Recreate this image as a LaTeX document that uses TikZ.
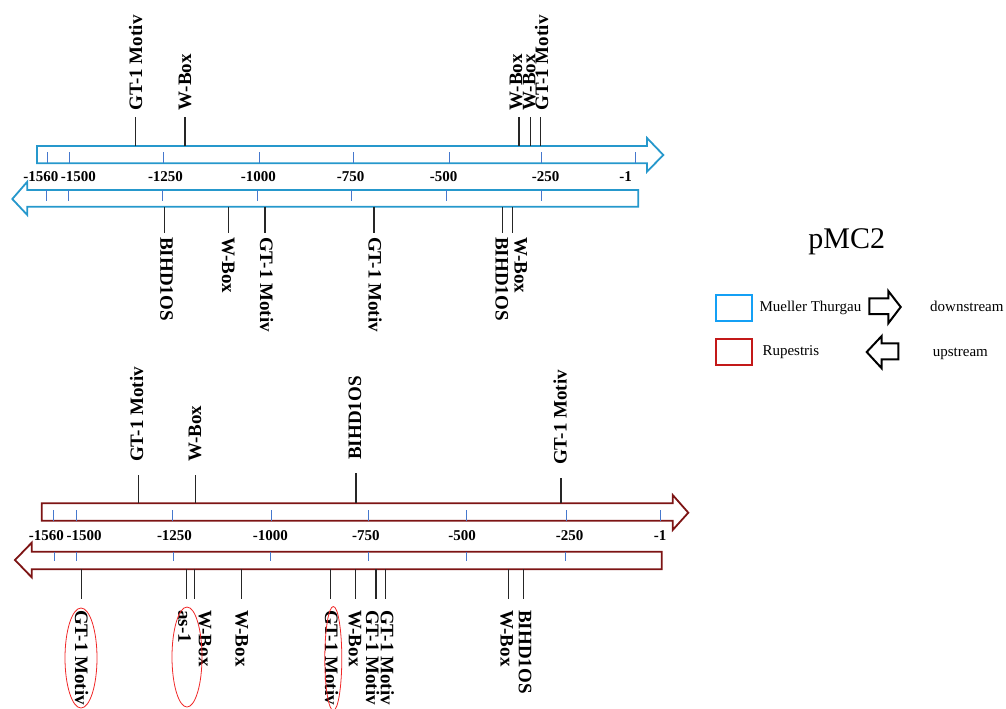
\documentclass[tikz,border=0pt]{standalone}
\usepackage{fontspec}
\setmainfont{Liberation Serif}
\usepackage{xcolor}
\definecolor{mtblue}{RGB}{38,152,204}
\definecolor{mtkeyblue}{RGB}{20,160,245}
\definecolor{rupred}{RGB}{125,20,20}
\definecolor{rupkeyred}{RGB}{195,25,25}
\definecolor{tickblue}{RGB}{70,120,205}
\definecolor{ringred}{RGB}{240,40,40}
\usetikzlibrary{positioning}

\begin{document}
\begin{tikzpicture}[x=1pt, y=-1pt,
  mtarrow/.style={draw=mtblue, line width=1.8pt, fill=white},
  ruparrow/.style={draw=rupred, line width=1.8pt, fill=white},
  tickmark/.style={draw=tickblue, line width=0.9pt},
  ticklabel/.style={font=\fontsize{15}{15}\selectfont\bfseries, inner sep=0pt},
  site/.style={draw=black!85, line width=1.3pt},
  sitelabel/.style={font=\fontsize{19}{19}\selectfont\bfseries, inner sep=0pt, anchor=west},
  ring/.style={draw=ringred, line width=0.8pt},
  keybox/.style={line width=2pt, fill=white, minimum width=36pt, minimum height=26pt, inner sep=0pt},
  keytext/.style={font=\fontsize{15}{15}\selectfont, inner sep=0pt},
  keyarrow/.style={draw=black, line width=2pt, fill=white}
]
\useasboundingbox (0,0) rectangle (1006,709);

% Mueller Thurgau, downstream / upstream
\draw[mtarrow] (37,146) -- (647,146) -- (647,138) -- (663.3,155) -- (647,171.7) -- (647,163.3) -- (37,163.3) -- cycle;
\draw[mtarrow] (638.3,190) -- (27.3,190) -- (27.3,181.7) -- (12.3,199) -- (27.3,215) -- (27.3,206.7) -- (638.3,206.7) -- cycle;
\foreach \tx in {47.7,69.3,163.3,259.3,353.3,449,541.7,635.7}
  \draw[tickmark] (\tx,152) -- (\tx,163);
\foreach \tx in {46,68.3,162.7,257.3,351.7,446.3,541}
  \draw[tickmark] (\tx,190) -- (\tx,200.7);
\foreach \lx/\val [count=\i] in {40.8/-1560, 78.3/-1500, 165.5/-1250, 258.3/-1000, 350.7/-750, 443.7/-500, 545.5/-250, 625.5/-1}
  \node[ticklabel] (mtpos\i) at (\lx,176.7) {\val};

\foreach \x/\lx/\txt [count=\i] in {135.7/135.7/GT-1 Motiv, 185/185/W-Box, 519/516/W-Box, 530.7/529.3/W-Box, 540.7/541.7/GT-1 Motiv}{
  \draw[site] (\x,146) -- (\x,116.5);
  \node[sitelabel, rotate=90] (mtdown\i) at (\lx,110.5) {\txt};
}
\foreach \x/\lx/\txt [count=\i] in {164.3/166.5/BIHD1OS, 228.7/228.3/W-Box, 265/266.7/GT-1 Motiv, 374/375/GT-1 Motiv, 502.3/501.7/BIHD1OS, 512.7/520.7/W-Box}{
  \draw[site] (\x,206.7) -- (\x,233);
  \node[sitelabel, rotate=-90] (mtup\i) at (\lx,237) {\txt};
}

% Rupestris, downstream / upstream
\draw[ruparrow] (41.7,503.3) -- (672.7,503.3) -- (672.7,495) -- (688.3,512.7) -- (672.7,530) -- (672.7,520.7) -- (41.7,520.7) -- cycle;
\draw[ruparrow] (661.7,551.7) -- (31.7,551.7) -- (31.7,542.7) -- (15,560) -- (31.7,577.3) -- (31.7,569.3) -- (661.7,569.3) -- cycle;
\foreach \tx in {53.3,76,172.7,271.7,368.3,466.7,566,660.7}
  \draw[tickmark] (\tx,510) -- (\tx,520.7);
\foreach \tx in {54.3,76,173.3,270.7,368.3,466,565}
  \draw[tickmark] (\tx,551.7) -- (\tx,561);
\foreach \lx/\val [count=\i] in {46.3/-1560, 84.2/-1500, 174.5/-1250, 270.3/-1000, 365.8/-750, 462/-500, 569.7/-250, 660/-1}
  \node[ticklabel] (ruppos\i) at (\lx,536) {\val};

\foreach \x/\lx/\ly/\txt [count=\i] in {138.3/136.7/475/GT-1 Motiv, 195.7/195/475/W-Box, 356/355/473/BIHD1OS, 561/560/478/GT-1 Motiv}{
  \draw[site] (\x,503.3) -- (\x,\ly);
  \node[sitelabel, rotate=90] (rupdown\i) at (\lx,\ly-13) {\txt};
}
\foreach \x/\lx/\txt [count=\i] in {81.7/81.7/GT-1 Motiv, 186.7/184.5/as-1, 194.3/205/W-Box, 241.7/241.7/W-Box, 330.7/331.7/GT-1 Motiv, 355.7/355/W-Box, 376/372.7/GT-1 Motiv, 385.3/387.3/GT-1 Motiv, 508.3/506.7/W-Box, 523.3/525/BIHD1OS}{
  \draw[site] (\x,569.3) -- (\x,599);
  \node[sitelabel, rotate=-90] (rupup\i) at (\lx,610) {\txt};
}
\draw[ring] (81,658) ellipse [x radius=16, y radius=50];
\draw[ring] (187,657) ellipse [x radius=15, y radius=50];
\draw[ring] (333.3,658.5) ellipse [x radius=8.5, y radius=52];

% legend
\node[font=\fontsize{30}{30}\selectfont] (title) at (846.7,241.7) {pMC2};
\node[keybox, draw=mtkeyblue] (mtkey) at (734.3,308) {};
\node[keybox, draw=rupkeyred] (rupkey) at (734.3,351.7) {};
\node[keytext, right=6pt of mtkey] (mtname) {Mueller Thurgau};
\node[keytext, right=9pt of rupkey] (rupname) {Rupestris};
\node[keytext, anchor=west] (downname) at (930,306) {downstream};
\node[keytext, anchor=west] (upname) at (932.7,354) {upstream};
\draw[keyarrow] (869.3,298.3) -- (888.3,298.3) -- (888.3,291) -- (900.7,307) -- (888.3,323.3) -- (888.3,314) -- (869.3,314) -- cycle;
\draw[keyarrow] (898.3,343.3) -- (881.7,343.3) -- (881.7,336) -- (866.7,352) -- (881.7,368.3) -- (881.7,359.3) -- (898.3,359.3) -- cycle;
\end{tikzpicture}
\end{document}
